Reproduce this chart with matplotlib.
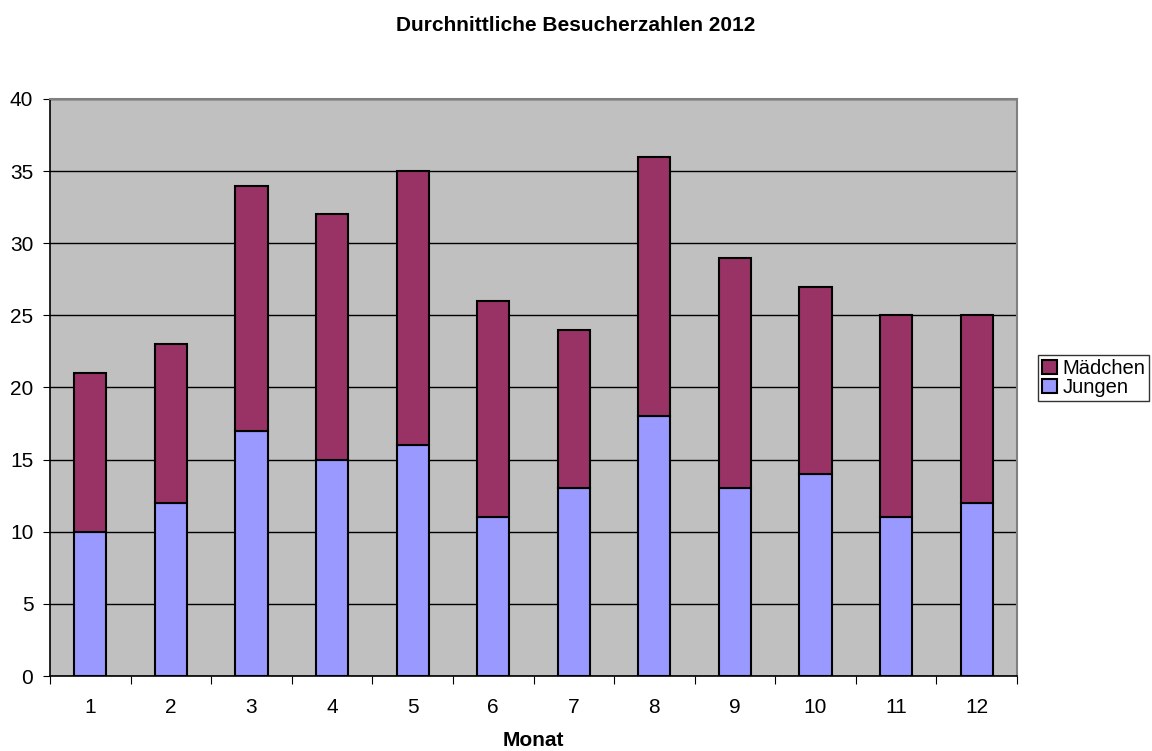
import matplotlib
matplotlib.use("Agg")
from matplotlib import pyplot as plt
import numpy as np

plt.rcParams['font.family'] = ['Liberation Sans', 'DejaVu Sans']

monate = [str(m) for m in range(1, 13)]
jungen = [10, 12, 17, 15, 16, 11, 13, 18, 13, 14, 11, 12]
maedchen = [11, 11, 17, 17, 19, 15, 11, 18, 16, 13, 14, 13]

fig = plt.figure(figsize=(11.52, 7.51), dpi=100)
ax = fig.add_axes([50/1152, 75/751, 967/1152, 577/751])
ax.set_facecolor('#C0C0C0')

x = np.arange(len(monate))
ax.bar(x, jungen, width=0.4, color='#9999FF', edgecolor='black', linewidth=1.5,
       label='Jungen', zorder=3)
ax.bar(x, maedchen, width=0.4, bottom=jungen, color='#993366', edgecolor='black',
       linewidth=1.5, label='Mädchen', zorder=3)

ax.set_xlim(-0.5, 11.5)
ax.set_ylim(0, 40)
ax.set_yticks(range(0, 41, 5))
ax.yaxis.grid(True, color='black', linewidth=1, zorder=1)
ax.set_axisbelow(True)

# ticks between the months, labels centred under the bars
ax.set_xticks(np.arange(-0.5, 12, 1))
ax.set_xticklabels([])
ax.set_xticks(x, minor=True)
ax.set_xticklabels(monate, minor=True)
ax.tick_params(axis='x', which='major', length=6, color='black')
ax.tick_params(axis='x', which='minor', length=0, pad=16, labelsize=15)
ax.tick_params(axis='y', length=5, labelsize=15, pad=7)

for s in ['top', 'right']:
    ax.spines[s].set_color('#808080')
    ax.spines[s].set_linewidth(1.5)
for s in ['left', 'bottom']:
    ax.spines[s].set_color('black')
    ax.spines[s].set_linewidth(1.2)

ax.set_xlabel('Monat', fontweight='bold', fontsize=15, labelpad=10)
fig.suptitle('Durchnittliche Besucherzahlen 2012', fontweight='bold', fontsize=15, y=0.979)

handles, labels = ax.get_legend_handles_labels()
leg = fig.legend(handles[::-1], labels[::-1], loc='upper left',
                 bbox_to_anchor=(1038/1152, 1 - 355/751), fontsize=14.5,
                 frameon=True, fancybox=False, edgecolor='black',
                 handlelength=0.75, handleheight=0.75, handletextpad=0.25,
                 borderpad=0.2, labelspacing=0.0, borderaxespad=0)
leg.get_frame().set_linewidth(1)

fig.savefig('out.png', dpi=100)
